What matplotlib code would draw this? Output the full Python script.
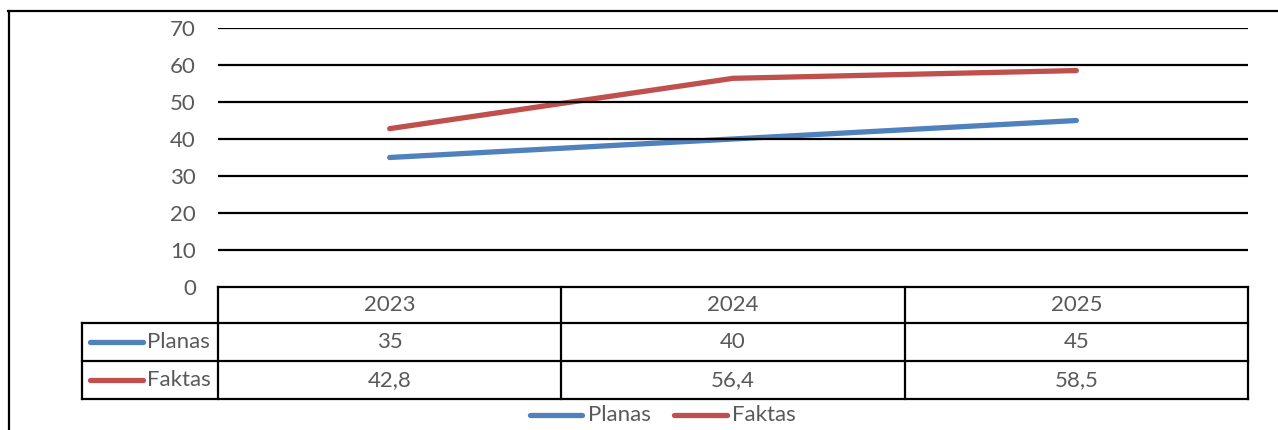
import matplotlib
matplotlib.use("Agg")
import matplotlib.pyplot as plt
from matplotlib.lines import Line2D

categories = ["2023", "2024", "2025"]
planas = [35, 40, 45]
faktas = [42.8, 56.4, 58.5]
series_names = ["Planas", "Faktas"]
yticks = [0, 10, 20, 30, 40, 50, 60, 70]

colors = ["#4f81bd", "#c0504d"]
txt = "#595959"
FONT = "Lato"
FS = 16

W, H = 1278, 430
fig = plt.figure(figsize=(W / 100, H / 100), dpi=100)

def fx(px):
    return px / W

def fy(py):
    return 1 - py / H

# axes: plot area
L, R, T, B = 218, 1248, 28, 287
ax = fig.add_axes([fx(L), fy(B), fx(R) - fx(L), fy(T) - fy(B)])
ax.set_xlim(-0.5, len(categories) - 0.5)
ax.set_ylim(0, 70)
for s in ax.spines.values():
    s.set_visible(False)
ax.set_xticks([])
ax.set_yticks(yticks)
ax.set_yticklabels([str(v) for v in yticks], fontsize=FS, color=txt, family=FONT)
ax.tick_params(axis="y", length=0, pad=16)
for v in yticks[1:]:
    ax.axhline(v, color="black", lw=1.6, zorder=3)

xs = list(range(len(categories)))
ax.plot(xs, planas, color=colors[0], lw=3.8, solid_capstyle="round", zorder=2)
ax.plot(xs, faktas, color=colors[1], lw=3.8, solid_capstyle="round", zorder=2)

# outer frame (top and left only visible)
fig.add_artist(Line2D([fx(8), fx(1280)], [fy(11), fy(11)], color="black", lw=1.6))
fig.add_artist(Line2D([fx(8.5), fx(8.5)], [fy(11), fy(432)], color="black", lw=1.6))

# data table
colx = [218, 561, 905, 1248]
rowy = [287, 323, 361, 399]
tl = 1.6
def hline(x0, x1, y):
    fig.add_artist(Line2D([fx(x0), fx(x1)], [fy(y), fy(y)], color="black", lw=tl))
def vline(x, y0, y1):
    fig.add_artist(Line2D([fx(x), fx(x)], [fy(y0), fy(y1)], color="black", lw=tl))

hline(218, 1248, 287)
hline(82, 1248, 323)
hline(82, 1248, 361)
hline(82, 1248, 399)
for x in colx:
    vline(x, 287, 399)
vline(82, 323, 399)

for i, c in enumerate(categories):
    cx = (colx[i] + colx[i + 1]) / 2
    fig.text(fx(cx), fy((rowy[0] + rowy[1]) / 2), c, ha="center", va="center",
             fontsize=FS, color=txt, family=FONT)

def fmt(v):
    s = ("%g" % v)
    return s.replace(".", ",")

for r, vals in enumerate([planas, faktas]):
    cy = (rowy[r + 1] + rowy[r + 2]) / 2
    for i, v in enumerate(vals):
        cx = (colx[i] + colx[i + 1]) / 2
        fig.text(fx(cx), fy(cy), fmt(v), ha="center", va="center",
                 fontsize=FS, color=txt, family=FONT)
    fig.add_artist(Line2D([fx(90), fx(143)], [fy(cy), fy(cy)], color=colors[r],
                          lw=3.8, solid_capstyle="round"))
    fig.text(fx(147), fy(cy), series_names[r], ha="left", va="center",
             fontsize=FS, color=txt, family=FONT)

# bottom legend
leg = [(530, 582, 588), (674, 727, 732)]
ly = 415
for r, (a, b, t) in enumerate(leg):
    fig.add_artist(Line2D([fx(a), fx(b)], [fy(ly), fy(ly)], color=colors[r],
                          lw=3.8, solid_capstyle="round"))
    fig.text(fx(t), fy(ly), series_names[r], ha="left", va="center",
             fontsize=FS, color=txt, family=FONT)

fig.savefig("out.png", dpi=100)
